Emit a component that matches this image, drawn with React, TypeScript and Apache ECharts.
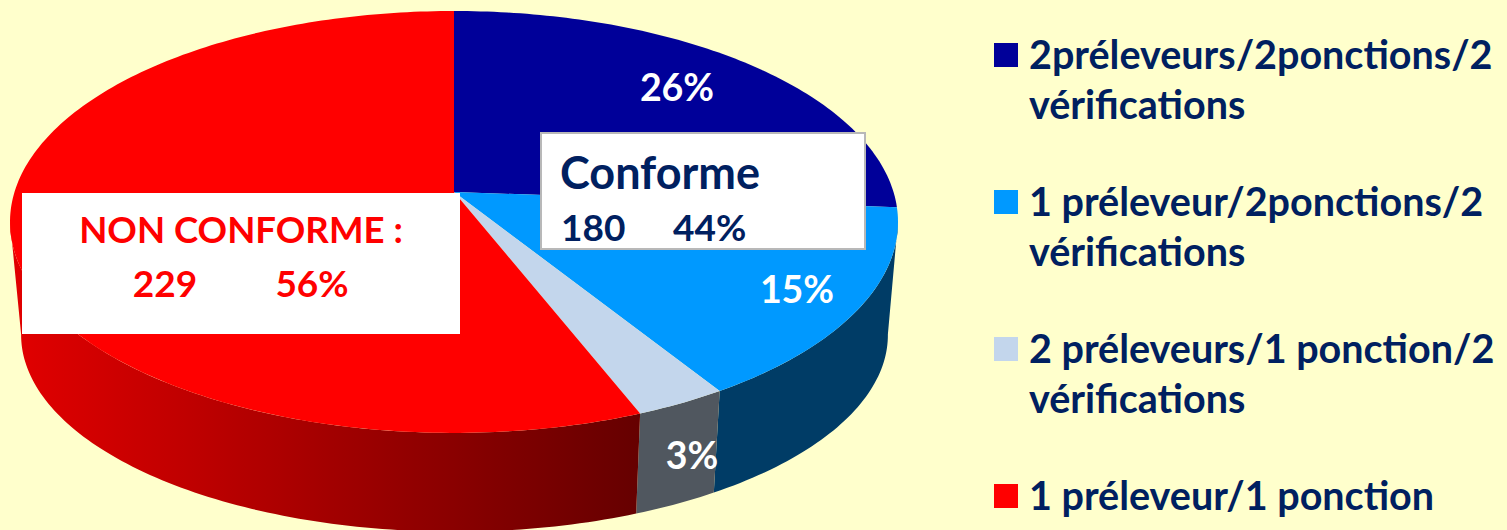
import React, { useEffect, useRef } from "react";
import * as echarts from "echarts";

const categories = [
  "2préleveurs/2ponctions/2 vérifications",
  "1 préleveur/2ponctions/2 vérifications",
  "2 préleveurs/1 ponction/2 vérifications",
  "1 préleveur/1 ponction",
];
const counts = [107, 61, 12, 229];
const faceColors = ["#000099", "#0099FF", "#C3D6EC", "#FF0000"];
const wallColors = ["#000066", "#003C66", "#50575F", "#AA0000"];
const labelAnchors: ([number, number] | null)[] = [[677, 86], [797, 288], [692, 454], null];

const conformeTitle = "Conforme";
const conformeCount = 180;
const conformeShare = "44%";
const nonConformeTitle = "NON CONFORME :";
const nonConformeCount = 229;
const nonConformeShare = "56%";

const FONT = "Lato";
const NAVY = "#002060";
const TOTAL = counts.reduce((a, b) => a + b, 0);

// Tilted disc in perspective: plane point (u, v) on the unit circle -> screen
const K = -0.142;
const TOP = { x: 454, y: 192, a: 439.5, b: 206.7 };
const BOTTOM = { x: 454.5, y: 306.9, a: 429, b: 192.9 };
const WALL_FROM = 98;
const WALL_TO = 262;

function project(disc: typeof TOP, deg: number): [number, number] {
  const r = (deg * Math.PI) / 180;
  const u = Math.sin(r);
  const v = -Math.cos(r);
  const d = 1 + K * v;
  return [disc.x + (disc.a * u) / d, disc.y + (disc.b * v) / d];
}

function rim(disc: typeof TOP, from: number, to: number): [number, number][] {
  const pts: [number, number][] = [];
  const n = Math.max(2, Math.ceil(Math.abs(to - from)));
  for (let i = 0; i <= n; i++) pts.push(project(disc, from + ((to - from) * i) / n));
  return pts;
}

function makeRender(index: number) {
  const start = counts.slice(0, index).reduce((a, b) => a + b, 0);
  return (_params: any, api: any) => {
    const value = api.value(0);
    const from = (start / TOTAL) * 360;
    const to = ((start + value) / TOTAL) * 360;
    const children: any[] = [];
    const wf = Math.max(from, WALL_FROM);
    const wt = Math.min(to, WALL_TO);
    if (wt > wf) {
      const fill =
        index === 3
          ? new echarts.graphic.LinearGradient(
              20,
              0,
              637,
              0,
              [
                { offset: 0, color: "#E00000" },
                { offset: 0.3, color: "#BC0000" },
                { offset: 0.6, color: "#960000" },
                { offset: 1, color: "#660000" },
              ],
              true
            )
          : wallColors[index];
      children.push({
        type: "polygon",
        shape: { points: [...rim(TOP, wf, wt), ...rim(BOTTOM, wt, wf)] },
        style: { fill, stroke: "none" },
      });
    }
    children.push({
      type: "polygon",
      shape: { points: [[TOP.x, TOP.y], ...rim(TOP, from, to)] },
      style: { fill: faceColors[index], stroke: "none" },
    });
    const anchor = labelAnchors[index];
    if (anchor) {
      children.push({
        type: "text",
        z2: 50,
        style: {
          x: anchor[0],
          y: anchor[1],
          text: `${Math.round((value / TOTAL) * 100)}%`,
          fill: "#FFFFFF",
          font: `bold 37.5px ${FONT}`,
          align: "center",
          verticalAlign: "middle",
        },
      });
    }
    return { type: "group", children };
  };
}

// Three rich lines: a slightly short spacer, then the text, so that the first
// text line sits level with the legend square.
function legendText(name: string) {
  const parts = name.match(/^(.*) (vérifications)$/);
  return parts
    ? `{s| }\n{t|${parts[1]}}\n{t|${parts[2]}}`
    : `{s| }\n{t|${name}}\n{t| }`;
}

export default function App() {
  const ref = useRef<HTMLDivElement>(null);
  useEffect(() => {
    document.body.style.margin = "0";
    document.body.style.overflow = "hidden";
    const chart = echarts.init(ref.current!, null, { renderer: "svg" });
    const legendCenters = [56, 203, 350, 497];
    const box = (t: string, x: number, y: number, size: number, fill: string, align = "left") => ({
      type: "text",
      z: 101,
      style: { x, y, text: t, fill, font: `bold ${size}px ${FONT}`, align, verticalAlign: "middle" },
    });
    chart.setOption({
      animation: false,
      backgroundColor: "#FFFFCC",
      legend: categories.map((name, i) => ({
        data: [name],
        left: 994,
        top: legendCenters[i] - 71,
        padding: 0,
        orient: "vertical",
        icon: "rect",
        itemWidth: 24,
        itemHeight: 24,
        selectedMode: false,
        formatter: legendText,
        textStyle: {
          color: NAVY,
          fontFamily: FONT,
          fontWeight: "bold",
          fontSize: 39.5,
          padding: [0, 0, 0, 6],
          rich: {
            s: { fontFamily: FONT, fontSize: 39.5, fontWeight: "bold", lineHeight: 46 },
            t: { color: NAVY, fontFamily: FONT, fontSize: 39.5, fontWeight: "bold", lineHeight: 50 },
          },
        },
      })),
      series: categories.map((name, i) => ({
        type: "custom",
        name,
        coordinateSystem: "none",
        silent: true,
        itemStyle: { color: faceColors[i] },
        data: [[counts[i]]],
        renderItem: makeRender(i),
      })),
      graphic: [
        {
          type: "rect",
          z: 100,
          shape: { x: 22, y: 193, width: 438, height: 141 },
          style: { fill: "#FFFFFF" },
        },
        box(nonConformeTitle, 241, 229, 36.6, "#FF0000", "center"),
        box(String(nonConformeCount), 165, 282, 37, "#FF0000", "center"),
        box(nonConformeShare, 312, 282, 37, "#FF0000", "center"),
        {
          type: "rect",
          z: 100,
          shape: { x: 541, y: 133, width: 324, height: 116 },
          style: { fill: "#FFFFFF", stroke: "#B8B8B8", lineWidth: 2 },
        },
        box(conformeTitle, 560, 172, 45, NAVY),
        box(String(conformeCount), 561, 226, 37, NAVY),
        box(conformeShare, 673, 226, 37, NAVY),
      ],
    });
    return () => chart.dispose();
  }, []);
  return <div ref={ref} style={{ width: 1507, height: 530 }} />;
}
